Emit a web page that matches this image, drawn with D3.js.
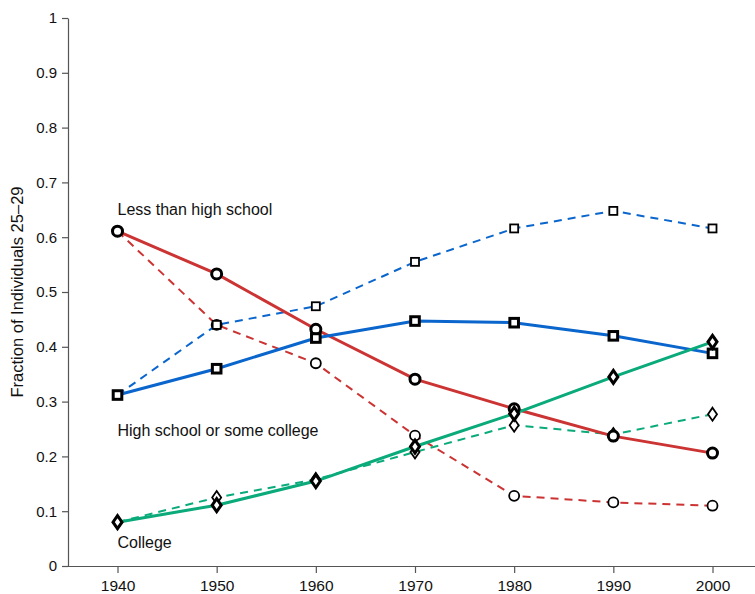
<!DOCTYPE html>
<html>
<head>
<meta charset="utf-8">
<script src="https://cdn.jsdelivr.net/npm/d3@7"></script>
<style>
  body { margin: 0; background: #fff; }
  svg { display: block; font-family: "Liberation Sans", Arial, Helvetica, sans-serif; }
</style>
</head>
<body>
<svg id="chart" width="755" height="594"></svg>
<script>
// Decades on the horizontal axis
const years = [1940, 1950, 1960, 1970, 1980, 1990, 2000];

// Fraction of individuals aged 25–29 by educational attainment
const lessHSSolid   = [0.611, 0.533, 0.432, 0.341, 0.287, 0.237, 0.206];
const lessHSDashed  = [0.611, 0.440, 0.370, 0.238, 0.128, 0.116, 0.110];
const highSchSolid  = [0.312, 0.360, 0.416, 0.447, 0.444, 0.420, 0.388];
const highSchDashed = [0.312, 0.440, 0.474, 0.555, 0.616, 0.648, 0.616];
const collegeSolid  = [0.080, 0.111, 0.155, 0.218, 0.278, 0.345, 0.409];
const collegeDashed = [0.080, 0.125, 0.158, 0.208, 0.257, 0.240, 0.277];

const yTicks = [0, 0.1, 0.2, 0.3, 0.4, 0.5, 0.6, 0.7, 0.8, 0.9, 1];
const yTickLabels = ["0", "0.1", "0.2", "0.3", "0.4", "0.5", "0.6", "0.7", "0.8", "0.9", "1"];

const groupLabels = [
  { text: "Less than high school", year: 1940, value: 0.640 },
  { text: "High school or some college", year: 1940, value: 0.238 },
  { text: "College", year: 1940, value: 0.033 }
];

const RED = "#cc3333", BLUE = "#0a66cc", GREEN = "#0aaa7a";

const series = [
  { values: lessHSDashed,  color: RED,   dashed: true,  shape: "circle" },
  { values: highSchDashed, color: BLUE,  dashed: true,  shape: "square" },
  { values: collegeDashed, color: GREEN, dashed: true,  shape: "diamond" },
  { values: lessHSSolid,   color: RED,   dashed: false, shape: "circle" },
  { values: highSchSolid,  color: BLUE,  dashed: false, shape: "square" },
  { values: collegeSolid,  color: GREEN, dashed: false, shape: "diamond" }
];

const svg = d3.select("#chart");
const axisX0 = 68, axisRight = 755, axisY0 = 566, axisTop = 18;

const x = d3.scaleLinear().domain([1940, 2000]).range([117.5, 712.5]);
const y = d3.scaleLinear().domain([0, 1]).range([axisY0, axisTop]);

// Y axis
const yAxis = d3.axisLeft(y)
  .tickValues(yTicks)
  .tickFormat((d, i) => yTickLabels[i])
  .tickSize(6)
  .tickPadding(5)
  .tickSizeOuter(0);
const gy = svg.append("g").attr("transform", `translate(${axisX0},0)`).call(yAxis);
gy.select(".domain").attr("stroke", "#555").attr("stroke-width", 1.2);
gy.selectAll(".tick line").attr("stroke", "#555").attr("stroke-width", 1.2);
gy.selectAll(".tick text").attr("font-size", 15).attr("fill", "#111")
  .attr("font-family", "'Liberation Sans', Arial, sans-serif");

// X axis
const xAxis = d3.axisBottom(x)
  .tickValues(years)
  .tickFormat(d3.format("d"))
  .tickSize(7)
  .tickPadding(7)
  .tickSizeOuter(0);
const gx = svg.append("g").attr("transform", `translate(0,${axisY0})`).call(xAxis);
gx.select(".domain").remove();
gx.append("line").attr("x1", axisX0).attr("x2", axisRight).attr("y1", 0.5).attr("y2", 0.5)
  .attr("stroke", "#555").attr("stroke-width", 1.2);
gx.selectAll(".tick line").attr("stroke", "#555").attr("stroke-width", 1.2);
gx.selectAll(".tick text").attr("font-size", 15.5).attr("fill", "#111")
  .attr("font-family", "'Liberation Sans', Arial, sans-serif");

// Y axis title
svg.append("text")
  .attr("transform", `translate(23,${y(0.5)}) rotate(-90)`)
  .attr("text-anchor", "middle")
  .attr("font-size", 16.5)
  .attr("fill", "#111")
  .text("Fraction of Individuals 25\u201329");

// Lines
const line = d3.line().x((d, i) => x(years[i])).y(d => y(d));
series.forEach(s => {
  svg.append("path")
    .datum(s.values)
    .attr("d", line)
    .attr("fill", "none")
    .attr("stroke", s.color)
    .attr("stroke-width", s.dashed ? 2 : 3)
    .attr("stroke-dasharray", s.dashed ? "8,6" : null);
});

// Markers: bold outlines on the solid series, thin on the dashed ones
function drawMarkers(s) {
  const g = svg.append("g");
  const sw = s.dashed ? 1.8 : 3;
  s.values.forEach((v, i) => {
    const cx = x(years[i]), cy = y(v);
    if (s.shape === "circle") {
      g.append("circle").attr("cx", cx).attr("cy", cy)
        .attr("r", 5)
        .attr("fill", "#fff").attr("stroke", "#000").attr("stroke-width", sw);
    } else if (s.shape === "square") {
      const h = s.dashed ? 4 : 4.3;
      g.append("rect").attr("x", cx - h).attr("y", cy - h)
        .attr("width", 2 * h).attr("height", 2 * h)
        .attr("fill", "#fff").attr("stroke", "#000").attr("stroke-width", sw);
    } else {
      const w = 4.5, h = 6.5;
      g.append("path")
        .attr("d", `M${cx},${cy - h}L${cx + w},${cy}L${cx},${cy + h}L${cx - w},${cy}Z`)
        .attr("fill", "#fff").attr("stroke", "#000").attr("stroke-width", sw)
        .attr("stroke-linejoin", "miter");
    }
  });
}
series.forEach(drawMarkers);

// Group labels
groupLabels.forEach(l => {
  svg.append("text")
    .attr("x", x(l.year))
    .attr("y", y(l.value))
    .attr("font-size", 16)
    .attr("fill", "#111")
    .text(l.text);
});
</script>
</body>
</html>
